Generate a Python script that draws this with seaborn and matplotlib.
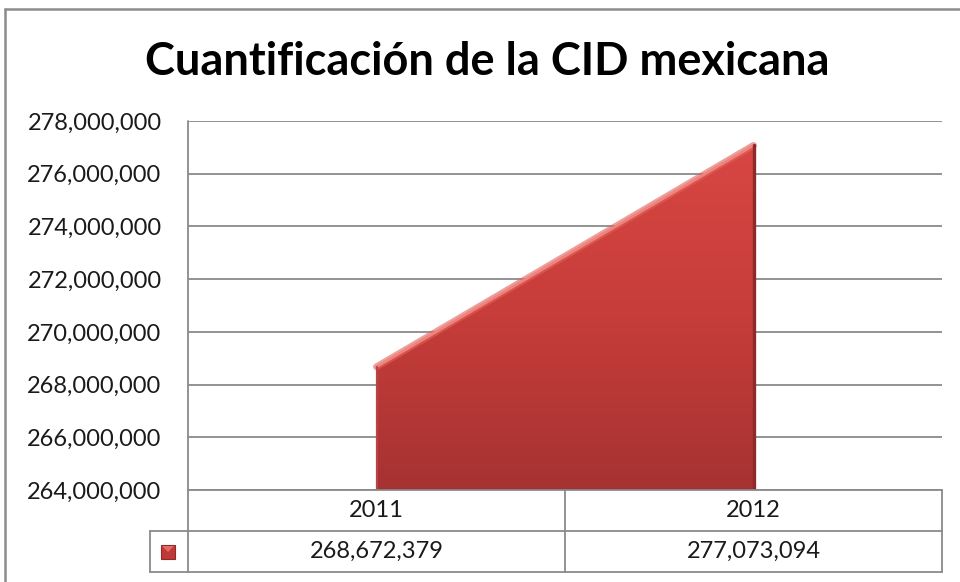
import numpy as np
import matplotlib
matplotlib.use("Agg")
import matplotlib.pyplot as plt
import matplotlib.ticker as mticker
from matplotlib.colors import LinearSegmentedColormap
from matplotlib.lines import Line2D
from matplotlib.patches import Rectangle
import seaborn as sns

# Data
years = ["2011", "2012"]
cid_values = [268672379, 277073094]
value_labels = ["268,672,379", "277,073,094"]
y_ticks = [264000000, 266000000, 268000000, 270000000,
           272000000, 274000000, 276000000, 278000000]
title = "Cuantificación de la CID mexicana"

sns.set_theme(style="white")
plt.rcParams["font.family"] = ["Lato", "DejaVu Sans"]

W, H = 960, 582
fig = plt.figure(figsize=(W / 100, H / 100), dpi=100)
fig.patch.set_facecolor("white")

# plot area in pixel coordinates
px_left, px_right, px_top, px_bottom = 188, 942, 121, 490
ax = fig.add_axes([px_left / W, 1 - px_bottom / H,
                   (px_right - px_left) / W, (px_bottom - px_top) / H])

grid_col = "#8a8a8a"
ymin, ymax = y_ticks[0], y_ticks[-1]
xpos = np.arange(1, len(years) + 1)

ax.set_xlim(0.5, len(years) + 0.5)
ax.set_ylim(ymin, ymax)
ax.set_yticks(y_ticks)
ax.yaxis.set_major_formatter(mticker.StrMethodFormatter("{x:,.0f}"))
ax.set_xticks([])
ax.tick_params(axis="y", length=0, pad=19, labelsize=17, labelcolor="#1a1a1a")
for yt in y_ticks:
    ax.axhline(yt, color=grid_col, lw=1.3, zorder=1)
for side in ["top", "right", "bottom", "left"]:
    ax.spines[side].set_visible(False)

# area with a vertical red gradient clipped to the filled region
area = ax.fill_between(xpos, cid_values, ymin, facecolor="none",
                       edgecolor="none", zorder=2)
cmap = LinearSegmentedColormap.from_list("reds", ["#a63232", "#c63d3a", "#d84642"])
grad = np.linspace(0, 1, 256).reshape(-1, 1)
img = ax.imshow(grad, cmap=cmap, origin="lower", aspect="auto",
                extent=[xpos[0], xpos[-1], ymin, max(cid_values)], zorder=3)
img.set_clip_path(area.get_paths()[0], transform=ax.transData)
ax.set_xlim(0.5, len(years) + 0.5)
ax.set_ylim(ymin, ymax)

# bevel: soft light top edge, darker right and bottom edges
sns.lineplot(x=xpos, y=cid_values, ax=ax, color="#e2605a", lw=5.0,
             alpha=0.6, zorder=4, legend=False)
sns.lineplot(x=xpos, y=cid_values, ax=ax, color="#ee847d", lw=2.0,
             zorder=4, legend=False)
ax.plot([xpos[-1], xpos[-1]], [cid_values[-1], ymin], color="#8e2a2a",
        lw=2.4, zorder=4)
ax.plot([xpos[0], xpos[-1]], [ymin, ymin], color="#8e2a2a", lw=2.4, zorder=4)
ax.plot([xpos[0], xpos[0]], [cid_values[0], ymin], color="#b84545",
        lw=1.6, zorder=4)

# data table under the axes (pixel based positions)
def fx(px):
    return px / W

def fy(py):
    return 1 - py / H

row1_top, row1_bot, row2_bot = 490, 531, 572
key_left = 150
mid = (px_left + px_right) / 2
lw_t = 1.3
lines = [
    ([px_left, px_left], [px_top, row2_bot]),
    ([px_left, px_right], [row1_top, row1_top]),
    ([key_left, px_right], [row1_bot, row1_bot]),
    ([key_left, px_right], [row2_bot, row2_bot]),
    ([key_left, key_left], [row1_bot, row2_bot]),
    ([mid, mid], [row1_top, row2_bot]),
    ([px_right, px_right], [row1_top, row2_bot]),
]
for xs, ys in lines:
    fig.add_artist(Line2D([fx(v) for v in xs], [fy(v) for v in ys],
                          color=grid_col, lw=lw_t))

centers = [px_left + (px_right - px_left) * (i + 0.5) / len(years)
           for i in range(len(years))]
for cx, yr, lab in zip(centers, years, value_labels):
    fig.text(fx(cx), fy((row1_top + row1_bot) / 2), yr, ha="center",
             va="center", fontsize=17, color="#1a1a1a")
    fig.text(fx(cx), fy((row1_bot + row2_bot) / 2), lab, ha="center",
             va="center", fontsize=17, color="#1a1a1a")

# legend key with a small highlight wedge on top
kx, ky, ks = 168, 552, 14
fig.add_artist(Rectangle((fx(kx - ks / 2), fy(ky + ks / 2)), ks / W, ks / H,
                         facecolor="#bf3a37", edgecolor="#8e2a2a", lw=0.8))
fig.add_artist(plt.Polygon([(fx(kx - ks / 2 + 1), fy(ky - ks / 2 + 1)),
                            (fx(kx + ks / 2 - 1), fy(ky - ks / 2 + 1)),
                            (fx(kx), fy(ky))],
                           closed=True, facecolor="#e46a63", edgecolor="none"))

# title
fig.text(fx(487), fy(62), title, ha="center", va="center", fontsize=32.5,
         fontweight="bold", color="black")

# chart frame
fig.add_artist(Line2D([fx(5), fx(960)], [fy(9), fy(9)], color="#8c8c8c", lw=1.8))
fig.add_artist(Line2D([fx(5), fx(5)], [fy(9), fy(582)], color="#8c8c8c", lw=1.8))

fig.savefig("out.png", dpi=100, facecolor="white")
